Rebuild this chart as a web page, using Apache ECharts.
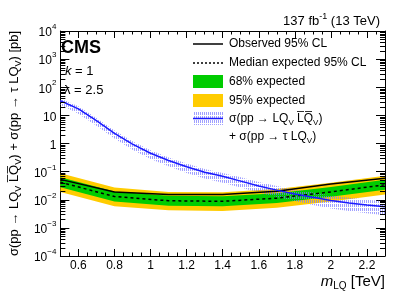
<!DOCTYPE html>
<html><head><meta charset="utf-8">
<script src="https://cdn.jsdelivr.net/npm/echarts@6/dist/echarts.min.js"></script>
<style>html,body{margin:0;padding:0;background:#fff}#c{width:407px;height:294px}</style>
</head><body><div id="c"></div>
<script>
// ---- data ----
const massLimit = [0.5, 0.8, 1.1, 1.4, 1.7, 2.0, 2.3];
const observed  = [0.053, 0.019, 0.0155, 0.0155, 0.020, 0.036, 0.058];
const expected  = [0.042, 0.013, 0.0092, 0.0088, 0.0114, 0.019, 0.034];
const exp68Up   = [0.063, 0.0195, 0.0138, 0.0132, 0.0171, 0.0285, 0.051];
const exp68Dn   = [0.028, 0.0087, 0.0061, 0.0059, 0.0076, 0.0127, 0.0227];
const exp95Up   = [0.088, 0.027, 0.019, 0.0185, 0.024, 0.040, 0.071];
const exp95Dn   = [0.019, 0.0059, 0.0042, 0.0040, 0.0052, 0.0086, 0.0155];

const massTheory = [0.5,0.6,0.7,0.8,0.9,1.0,1.1,1.2,1.3,1.4,1.5,1.6,1.7,1.8,1.9,2.0,2.1,2.2,2.3];
const theory     = [33, 17, 6.5, 2.3, 0.95, 0.45, 0.25, 0.15, 0.095, 0.068, 0.046, 0.031, 0.022, 0.016, 0.0122, 0.0094, 0.0077, 0.0065, 0.0056];
const theoryUp   = [40, 21, 8.0, 2.9, 1.2, 0.57, 0.32, 0.195, 0.125, 0.090, 0.063, 0.043, 0.031, 0.023, 0.018, 0.0142, 0.0118, 0.0100, 0.0088];
const theoryDn   = [24, 11.5, 4.3, 1.5, 0.6, 0.28, 0.155, 0.09, 0.057, 0.040, 0.027, 0.018, 0.0125, 0.0090, 0.0065, 0.0049, 0.0040, 0.0033, 0.0028];

const xMajorTicks = [0.6, 0.8, 1.0, 1.2, 1.4, 1.6, 1.8, 2.0, 2.2];
const xMinorTicks = [0.5,0.55,0.6,0.65,0.7,0.75,0.8,0.85,0.9,0.95,1.0,1.05,1.1,1.15,1.2,1.25,1.3,1.35,1.4,1.45,1.5,1.55,1.6,1.65,1.7,1.75,1.8,1.85,1.9,1.95,2.0,2.05,2.1,2.15,2.2,2.25,2.3];
const yRange = [1e-4, 1e4];
const yMinorMantissas = [2, 3, 4, 5, 6, 7, 8, 9];
const yDecadeExponents = [-4, -3, -2, -1, 0, 1, 2, 3];

// ---- helpers ----
const FONT = 'Liberation Sans, Arial, Helvetica, sans-serif';
function hatchCanvas() {
  const c = document.createElement('canvas');
  c.width = 2; c.height = 4;
  const g = c.getContext('2d');
  g.fillStyle = 'rgba(120,120,255,0.7)';
  g.fillRect(0, 0, 1, 3);
  return c;
}
const hatch = { image: hatchCanvas(), repeat: 'repeat' };

function band(xs, lo, hi, fill, z) {
  return {
    type: 'custom', coordinateSystem: 'cartesian2d', xAxisIndex: 0, yAxisIndex: 0,
    z: z, silent: true, clip: true,
    data: [[xs[0], lo[0]]],
    renderItem: function (params, api) {
      const pts = [];
      for (let i = 0; i < xs.length; i++) pts.push(api.coord([xs[i], hi[i]]));
      for (let i = xs.length - 1; i >= 0; i--) pts.push(api.coord([xs[i], lo[i]]));
      return { type: 'polygon', shape: { points: pts }, style: { fill: fill, stroke: null } };
    }
  };
}
function pairs(xs, ys) { return xs.map((x, i) => [x, ys[i]]); }

const yMinorTicks = [];
yDecadeExponents.forEach(e => yMinorMantissas.forEach(m => yMinorTicks.push(m * Math.pow(10, e))));

function xAx(pos, ticks, len, showLine, showLabel) {
  return {
    type: 'value', position: pos, min: 0.5, max: 2.3,
    axisLine: { show: showLine, onZero: false, lineStyle: { color: '#000', width: 1 } },
    axisTick: { show: true, inside: true, length: len, customValues: ticks, lineStyle: { color: '#000', width: 1 } },
    axisLabel: { show: showLabel, customValues: xMajorTicks, margin: 4, color: '#000', fontSize: 12, fontFamily: FONT,
      formatter: v => (Math.round(v * 10) / 10).toString() },
    splitLine: { show: false }
  };
}
function yAx(pos, showLabel) {
  return {
    type: 'log', position: pos, min: yRange[0], max: yRange[1],
    axisLine: { show: true, onZero: false, lineStyle: { color: '#000' } },
    axisTick: { inside: true, length: 9 },
    axisLabel: { show: showLabel, margin: 4, color: '#000', fontSize: 12, fontFamily: FONT,
      formatter: function (v) {
        const e = Math.round(Math.log10(v));
        if (e === 0) return '{b|1}';
        if (e === 1) return '{b|10}';
        return '{b|10}{s|' + (e < 0 ? '\u2212' + (-e) : e) + '}';
      },
      rich: { b: { fontSize: 12, fontFamily: FONT, color: '#000', lineHeight: 16, verticalAlign: 'bottom' },
              s: { fontSize: 8, fontFamily: FONT, color: '#000', lineHeight: 16, verticalAlign: 'top' } } },
    splitLine: { show: false }
  };
}

const chart = echarts.init(document.getElementById('c'));
const richBase = { fontSize: 13, fontFamily: FONT, color: '#000', lineHeight: 17, verticalAlign: 'middle' };
const richSub = { fontSize: 9, fontFamily: FONT, color: '#000', lineHeight: 17, verticalAlign: 'bottom' };

const graphics = [
    { type: 'text', right: 27, top: 12, style: { text: '{t|137 fb}{s|-1}{t| (13 TeV)}', rich: {
        t: { fontSize: 13, fontFamily: FONT, fill: '#000', lineHeight: 16, verticalAlign: 'bottom' },
        s: { fontSize: 9, fontFamily: FONT, fill: '#000', lineHeight: 16, verticalAlign: 'top' } } } },
    { type: 'text', x: 61, y: 48.5, style: { text: 'CMS', font: 'bold 18px ' + FONT, fill: '#000', verticalAlign: 'middle' } },
    { type: 'text', x: 65, y: 71, style: { text: '{i|k}{t| = 1}', verticalAlign: 'middle', rich: {
        i: { fontSize: 13, fontStyle: 'italic', fontFamily: FONT, fill: '#000' },
        t: { fontSize: 13, fontFamily: FONT, fill: '#000' } } } },
    { type: 'text', x: 64, y: 90, style: { text: 'λ = 2.5', font: '13px ' + FONT, fill: '#000', verticalAlign: 'middle' } },
    // legend
    { type: 'line', shape: { x1: 193, y1: 44, x2: 223, y2: 44 }, style: { stroke: '#000', lineWidth: 1.5 } },
    { type: 'line', shape: { x1: 193, y1: 63, x2: 223, y2: 63 }, style: { stroke: '#000', lineWidth: 1.5, lineDash: [2, 2] } },
    { type: 'rect', shape: { x: 193, y: 75, width: 30, height: 13 }, style: { fill: '#00cc00' } },
    { type: 'rect', shape: { x: 193, y: 94, width: 30, height: 13 }, style: { fill: '#ffcc00' } },
    { type: 'rect', shape: { x: 193, y: 112, width: 30, height: 13 }, style: { fill: hatch } },
    { type: 'line', shape: { x1: 193, y1: 118.5, x2: 223, y2: 118.5 }, style: { stroke: '#1a1aff', lineWidth: 1.5 } },
    { type: 'text', x: 229, y: 44, style: { text: 'Observed 95% CL', font: '12px ' + FONT, fill: '#000', verticalAlign: 'middle' } },
    { type: 'text', x: 229, y: 63, style: { text: 'Median expected 95% CL', font: '12px ' + FONT, fill: '#000', verticalAlign: 'middle' } },
    { type: 'text', x: 229, y: 82, style: { text: '68% expected', font: '12px ' + FONT, fill: '#000', verticalAlign: 'middle' } },
    { type: 'text', x: 229, y: 101, style: { text: '95% expected', font: '12px ' + FONT, fill: '#000', verticalAlign: 'middle' } },
    { type: 'text', x: 229, y: 119, style: { text: '{t|σ(pp → LQ}{s|V}{t| L\u0305Q\u0305}{s|V}{t|)}', verticalAlign: 'middle', rich: {
        t: { fontSize: 12, fontFamily: FONT, fill: '#000', lineHeight: 16, verticalAlign: 'middle' },
        s: { fontSize: 8, fontFamily: FONT, fill: '#000', lineHeight: 16, verticalAlign: 'bottom' } } } },
    { type: 'text', x: 229, y: 137, style: { text: '{t|+ σ(pp → τ LQ}{s|V}{t|)}', verticalAlign: 'middle', rich: {
        t: { fontSize: 12, fontFamily: FONT, fill: '#000', lineHeight: 16, verticalAlign: 'middle' },
        s: { fontSize: 8, fontFamily: FONT, fill: '#000', lineHeight: 16, verticalAlign: 'bottom' } } } }
];

chart.setOption({
  animation: false,
  backgroundColor: '#fff',
  grid: { left: 52, right: 22, top: 31, bottom: 38 },
  xAxis: [
    Object.assign(xAx('bottom', xMajorTicks, 7, true, true), {
      name: '{i|m}{s|LQ}{t| [TeV]}', nameLocation: 'end', nameGap: 0,
      nameTextStyle: { align: 'right', verticalAlign: 'top', padding: [17, 0, 0, 0],
        rich: { i: { fontSize: 15, fontStyle: 'italic', fontFamily: FONT, color: '#000', lineHeight: 18, verticalAlign: 'middle' },
                s: { fontSize: 10, fontFamily: FONT, color: '#000', lineHeight: 18, verticalAlign: 'bottom' },
                t: { fontSize: 15, fontFamily: FONT, color: '#000', lineHeight: 18, verticalAlign: 'middle' } } }
    }),
    xAx('bottom', xMinorTicks, 3.5, false, false),
    xAx('top', xMajorTicks, 7, true, false),
    xAx('top', xMinorTicks, 3.5, false, false)
  ],
  yAxis: [
    Object.assign(yAx('left', true), {
      name: '{t|σ(pp → LQ}{s|V}{t| L\u0305Q\u0305}{s|V}{t|) + σ(pp → τ LQ}{s|V}{t|) [pb]}',
      nameLocation: 'middle', nameRotate: 90, nameGap: 33,
      nameTextStyle: { rich: { t: richBase, s: richSub } }
    }),
    yAx('right', false)
  ],
  series: [
    band(massLimit, exp95Dn, exp95Up, '#ffcc00', 1),
    band(massLimit, exp68Dn, exp68Up, '#00cc00', 2),
    band(massTheory, theoryDn, theoryUp, hatch, 3),
    { type: 'line', xAxisIndex: 0, yAxisIndex: 0, z: 4, data: pairs(massLimit, expected), symbol: 'none', silent: true,
      lineStyle: { color: '#000', width: 1.5, type: [3, 3] } },
    { type: 'line', xAxisIndex: 0, yAxisIndex: 0, z: 5, data: pairs(massLimit, observed), symbol: 'none', silent: true,
      lineStyle: { color: '#000', width: 1.5 } },
    { type: 'line', xAxisIndex: 0, yAxisIndex: 0, z: 6, data: pairs(massTheory, theory), symbol: 'none', silent: true,
      lineStyle: { color: '#1a1aff', width: 1.5 } },
    // y minor ticks (axis decoration) on both sides, placed through the log axis
    { type: 'custom', coordinateSystem: 'cartesian2d', xAxisIndex: 0, yAxisIndex: 0, z: 10, silent: true, clip: false,
      data: yMinorTicks.map(v => [0.5, v]),
      renderItem: function (params, api) {
        const v = api.value(1);
        const l = api.coord([0.5, v]);
        const r = api.coord([2.3, v]);
        const y = Math.round(l[1]) + 0.5;
        return { type: 'group', children: [
          { type: 'line', shape: { x1: l[0], y1: y, x2: l[0] + 5, y2: y }, style: { stroke: '#000', lineWidth: 1 } },
          { type: 'line', shape: { x1: r[0], y1: y, x2: r[0] - 5, y2: y }, style: { stroke: '#000', lineWidth: 1 } }
        ] };
      } }
  ],
  graphic: graphics
});
</script></body></html>
